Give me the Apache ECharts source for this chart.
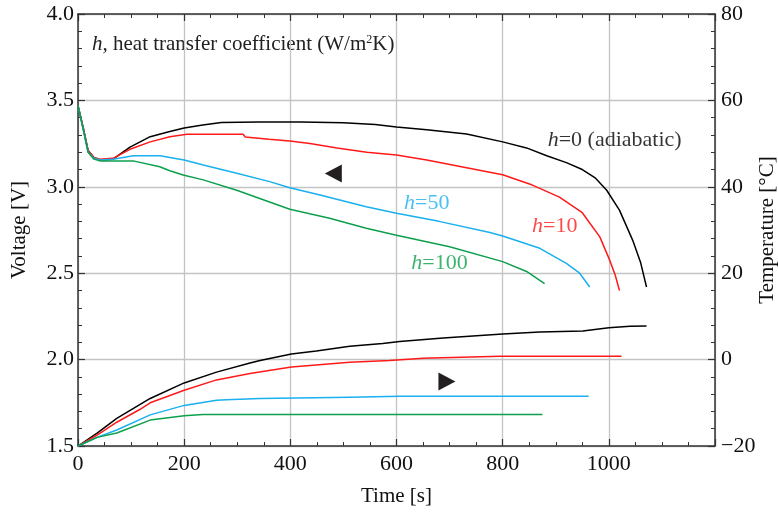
<!DOCTYPE html>
<html>
<head>
<meta charset="utf-8">
<script src="https://cdn.jsdelivr.net/npm/echarts@6/dist/echarts.min.js"></script>
<style>html,body{margin:0;padding:0;background:#fff}#c{width:778px;height:512px}</style>
</head>
<body>
<div id="c"></div>
<script>
// ---- Voltage curves (time s, voltage V) ----
const tV_h0 = [0,10,19,30,41,66,98,136,173,200,235,270,340,420,500,560,600,657,732,800,845,883,920,950,975,996,1020,1045,1060,1071];
const V_h0  = [3.47,3.34,3.21,3.17,3.155,3.16,3.23,3.29,3.32,3.34,3.358,3.372,3.375,3.375,3.37,3.36,3.346,3.33,3.305,3.26,3.225,3.18,3.14,3.10,3.05,2.98,2.865,2.69,2.56,2.42];
const tV_h10 = [0,10,19,30,41,66,98,136,173,205,250,311,315,360,399,437,488,544,600,657,732,800,856,907,950,983,1001,1012,1020];
const V_h10  = [3.47,3.34,3.21,3.17,3.16,3.165,3.217,3.26,3.29,3.304,3.304,3.304,3.288,3.275,3.265,3.25,3.225,3.20,3.184,3.155,3.11,3.07,3.01,2.94,2.85,2.71,2.58,2.49,2.40];
const tV_h50 = [0,10,19,30,41,66,104,155,173,200,236,299,361,399,456,543,600,680,776,800,870,920,945,964];
const V_h50  = [3.47,3.33,3.20,3.165,3.155,3.16,3.18,3.18,3.17,3.155,3.126,3.078,3.03,2.995,2.953,2.885,2.847,2.80,2.735,2.715,2.644,2.557,2.50,2.42];
const tV_h100 = [0,10,19,30,41,66,104,154,173,198,236,299,399,474,543,600,700,800,845,879];
const V_h100  = [3.47,3.33,3.20,3.16,3.15,3.15,3.15,3.116,3.093,3.068,3.04,2.98,2.87,2.818,2.76,2.72,2.653,2.567,2.51,2.44];

// ---- Temperature curves (time s, temperature °C) ----
const tT_h0 = [0,36,73,136,200,261,324,343,402,449,512,574,606,688,800,870,951,1000,1040,1071];
const T_h0  = [-20,-17,-13.6,-9.0,-5.4,-2.9,-0.8,-0.2,1.3,2.0,3.1,3.7,4.2,5.0,5.9,6.4,6.6,7.4,7.7,7.8];
const tT_h10 = [0,36,73,117,136,200,261,324,402,512,587,650,795,1024];
const T_h10  = [-20,-17.5,-14.5,-11.5,-10.0,-7.1,-4.7,-3.2,-1.7,-0.6,-0.2,0.3,0.8,0.8];
const tT_h50 = [0,36,73,136,200,261,280,343,512,606,962];
const T_h50  = [-20,-18,-16.3,-12.8,-10.6,-9.4,-9.3,-9.0,-8.7,-8.5,-8.5];
const tT_h100 = [0,36,73,136,200,235,875];
const T_h100  = [-20,-18,-17,-14,-13,-12.7,-12.7];

// ---- axes ----
const xTicks = [0,200,400,600,800,1000];
const vTicks = [1.5,2.0,2.5,3.0,3.5,4.0];
const tempTicks = [-20,0,20,40,60,80];

// ---- annotations (data coords) ----
const curveLabels = [
  {name:'0 (adiabatic)', t:1011, v:3.27, color:'#000000'},
  {name:'10', t:898, v:2.773, color:'#ff1a1a'},
  {name:'50', t:657, v:2.906, color:'#1ab0f0'},
  {name:'100', t:681, v:2.559, color:'#0ca04c'}
];
const arrowLeft = [481, 3.077];
const arrowRight = [695, 1.873];

const colors = {h0:'#000000', h10:'#ff1a1a', h50:'#1ab0f0', h100:'#0ca04c'};
const FONT = '"Liberation Serif", "Times New Roman", serif';

function pairs(t, v){ return t.map((x,i)=>[x, v[i]]); }
function line(name, t, v, color, yIdx){
  return {name, type:'line', xAxisIndex:0, yAxisIndex:yIdx, data:pairs(t,v), showSymbol:false, symbol:'none',
    smooth:false, silent:true, lineStyle:{color, width:1.5}, z:5, animation:false};
}

const chart = echarts.init(document.getElementById('c'), null, {renderer:'canvas'});
const axisCommonTick = {show:true, inside:true, length:7, lineStyle:{color:'#333', width:1.2}};
const minor = {show:true, length:4, lineStyle:{color:'#333', width:1}};
const labelStyle = {color:'#111', fontFamily:FONT, fontSize:22};

const option = {
  animation:false,
  backgroundColor:'#fff',
  grid:{left:78, right:63, top:14, bottom:66, containLabel:false, outerBoundsMode:'none'},
  xAxis:[{
    type:'value', min:0, max:1200, interval:200, position:'bottom',
    name:'Time [s]', nameLocation:'middle', nameGap:40, nameMoveOverlap:false,
    nameTextStyle:{color:'#111', fontFamily:FONT, fontSize:21},
    axisLine:{show:true, onZero:false, lineStyle:{color:'#333', width:1.5}},
    axisTick:axisCommonTick, minorTick:Object.assign({splitNumber:4}, minor),
    axisLabel:Object.assign({margin:7, formatter:v=> xTicks.includes(v)? String(v):''}, labelStyle),
    splitLine:{show:true, lineStyle:{color:'#c4c4c4', width:1.3}}
  },{
    type:'value', min:0, max:1200, interval:200, position:'top',
    axisLine:{show:true, onZero:false, lineStyle:{color:'#333', width:1.5}},
    axisTick:axisCommonTick, minorTick:Object.assign({splitNumber:4}, minor),
    axisLabel:{show:false}, splitLine:{show:false}
  }],
  yAxis:[{
    type:'value', min:1.5, max:4.0, interval:0.5, position:'left',
    name:'Voltage [V]', nameLocation:'middle', nameGap:48, nameRotate:90, nameMoveOverlap:false,
    nameTextStyle:{color:'#111', fontFamily:FONT, fontSize:21},
    axisLine:{show:true, onZero:false, lineStyle:{color:'#333', width:1.5}},
    axisTick:axisCommonTick, minorTick:Object.assign({splitNumber:5}, minor),
    axisLabel:Object.assign({margin:4, formatter:v=> vTicks.some(k=>Math.abs(k-v)<1e-6)? v.toFixed(1):''}, labelStyle),
    splitLine:{show:true, lineStyle:{color:'#c4c4c4', width:1.3}}
  },{
    type:'value', min:-20, max:80, interval:20, position:'right',
    name:'Temperature [°C]', nameLocation:'middle', nameGap:42, nameRotate:90, nameMoveOverlap:false,
    nameTextStyle:{color:'#111', fontFamily:FONT, fontSize:21},
    axisLine:{show:true, onZero:false, lineStyle:{color:'#333', width:1.5}},
    axisTick:axisCommonTick, minorTick:Object.assign({splitNumber:5}, minor),
    axisLabel:Object.assign({margin:6, formatter:v=> tempTicks.includes(v)? String(v).replace('-', '\u2212'):''}, labelStyle),
    splitLine:{show:false}
  }],
  graphic:[{
    type:'text', left:92, top:34, silent:true,
    style:{text:'{i|h,} heat transfer coefficient (W/m{s|2}K)', fill:'#222', font:'21px '+FONT,
      rich:{i:{fontStyle:'italic', fontFamily:FONT, fontSize:21, fill:'#222'},
            s:{fontFamily:FONT, fontSize:12, fill:'#222', verticalAlign:'top', padding:[0,0,8,0]}}}
  }],
  series:[
    line('V h=0', tV_h0, V_h0, colors.h0, 0),
    line('V h=10', tV_h10, V_h10, colors.h10, 0),
    line('V h=50', tV_h50, V_h50, colors.h50, 0),
    line('V h=100', tV_h100, V_h100, colors.h100, 0),
    line('T h=0', tT_h0, T_h0, colors.h0, 1),
    line('T h=10', tT_h10, T_h10, colors.h10, 1),
    line('T h=50', tT_h50, T_h50, colors.h50, 1),
    line('T h=100', tT_h100, T_h100, colors.h100, 1),
    {
      type:'scatter', xAxisIndex:0, yAxisIndex:0, silent:true, animation:false, z:6,
      data:[
        {value:arrowLeft, symbolRotate:90},
        {value:arrowRight, symbolRotate:-90}
      ],
      symbol:'triangle', symbolSize:[18,17], itemStyle:{color:'#231f20', opacity:1}
    },
    {
      type:'scatter', xAxisIndex:0, yAxisIndex:0, silent:true, animation:false, z:7,
      symbolSize:0, itemStyle:{color:'rgba(0,0,0,0)'},
      data: curveLabels.map(c=>({
        value:[c.t, c.v],
        label:{show:true, position:'inside', align:'center', verticalAlign:'middle',
          formatter:'{i|h}{n|=' + c.name + '}',
          rich:{
            i:{fontFamily:FONT, fontStyle:'italic', fontSize:22, color:c.color},
            n:{fontFamily:FONT, fontSize:22, color:c.color}
          }}
      }))
    }
  ]
};
chart.setOption(option);
</script>
</body>
</html>
